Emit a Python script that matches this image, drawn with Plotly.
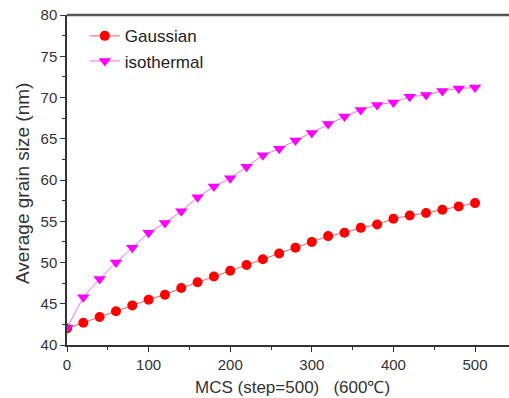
import plotly.graph_objects as go

mcs = [0, 20, 40, 60, 80, 100, 120, 140, 160, 180, 200, 220, 240, 260, 280,
       300, 320, 340, 360, 380, 400, 420, 440, 460, 480, 500]
gaussian = [42.0, 42.7, 43.4, 44.1, 44.8, 45.5, 46.1, 46.9, 47.6, 48.3, 49.0,
            49.7, 50.4, 51.1, 51.8, 52.5, 53.2, 53.6, 54.2, 54.6, 55.3, 55.7,
            56.0, 56.4, 56.8, 57.2]
isothermal = [42.1, 45.8, 48.0, 50.0, 51.8, 53.6, 54.8, 56.2, 57.9, 59.2, 60.2,
              61.6, 63.0, 63.8, 64.8, 65.7, 66.8, 67.7, 68.5, 69.1, 69.4, 70.1,
              70.3, 70.8, 71.1, 71.2]

FONT = "Liberation Sans, Arial, sans-serif"
TXT = "#333333"

fig = go.Figure()
fig.add_trace(go.Scatter(
    x=mcs, y=gaussian, name="Gaussian", mode="lines+markers",
    line=dict(color="#ff5a5a", width=1),
    marker=dict(symbol="circle", size=10, color="#ff0000"),
))
fig.add_trace(go.Scatter(
    x=mcs, y=isothermal, name="isothermal", mode="lines+markers",
    line=dict(color="#ff66ff", width=1),
    marker=dict(symbol="triangle-down", size=11, color="#ff00ff"),
))

axis_common = dict(
    showgrid=False, zeroline=False, showline=True, linecolor="#333333",
    linewidth=1.5, ticks="outside", ticklen=5, tickcolor="#333333",
    tickwidth=1.2, tickfont=dict(family=FONT, size=15, color=TXT),
    automargin=False, ticklabeloverflow="allow",
)

# plot area: 67px left, extends past the right edge of the 509px view (chart is cropped there)
fig.update_layout(
    width=524, height=398,
    margin=dict(l=67, r=0, t=15, b=53),
    paper_bgcolor="white", plot_bgcolor="white",
    font=dict(family=FONT, color=TXT),
    showlegend=True,
    legend=dict(x=0.039, y=0.99, xanchor="left", yanchor="top",
                bgcolor="rgba(0,0,0,0)", font=dict(family=FONT, size=17, color="#222222"),
                tracegroupgap=0),
    xaxis=dict(
        range=[0, 560.0], tickvals=[0, 100, 200, 300, 400, 500],
        minor=dict(dtick=50, ticks="outside", ticklen=3, tickcolor="#333333"),
        **axis_common,
    ),
    yaxis=dict(
        range=[40, 80], tickvals=[40, 45, 50, 55, 60, 65, 70, 75, 80],
        minor=dict(dtick=2.5, ticks="outside", ticklen=3, tickcolor="#333333"),
        **axis_common,
    ),
)
fig.add_annotation(text="MCS (step=500)\u00a0\u00a0\u00a0(600℃)", xref="x", yref="paper",
                   x=276, y=-0.13, xanchor="center", yanchor="middle", showarrow=False,
                   font=dict(family=FONT, size=17, color=TXT))
fig.add_annotation(text="Average grain size (nm)", xref="paper", yref="paper",
                   x=-44 / 457, y=0.488, xanchor="center", yanchor="middle", showarrow=False,
                   textangle=-90, font=dict(family=FONT, size=19, color=TXT))
fig.add_shape(type="line", xref="paper", yref="paper", x0=0, x1=1, y0=1, y1=1,
              line=dict(color="#555555", width=2.5))

fig.write_html("out.html", config={"displayModeBar": False},
               post_script="document.body.style.margin='0';document.body.style.overflow='hidden';")
